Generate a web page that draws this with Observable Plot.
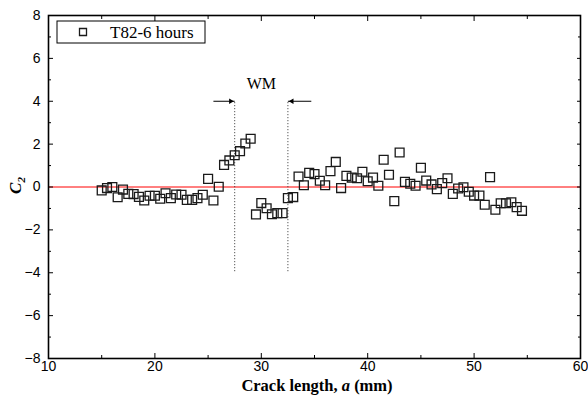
<!DOCTYPE html>
<html><head><meta charset="utf-8">
<script src="https://cdn.jsdelivr.net/npm/d3@7"></script>
<script src="https://cdn.jsdelivr.net/npm/@observablehq/plot@0.6"></script>
<style>
html,body{margin:0;padding:0;background:#fff}
#chart{width:588px;height:397px}
</style>
</head><body><div id="chart"></div>
<script>
// Data
const crackLength = [15,15.5,16,16.5,17,17.5,18,18.5,19,19.5,20,20.5,21,21.5,22,22.5,23,23.5,24,24.5,
  25,25.5,26,26.5,27,27.5,28,28.5,29,29.5,30,30.5,31,31.5,32,32.5,33,33.5,34,34.5,
  35,35.5,36,36.5,37,37.5,38,38.5,39,39.5,40,40.5,41,41.5,42,42.5,43,43.5,44,44.5,
  45,45.5,46,46.5,47,47.5,48,48.5,49,49.5,50,50.5,51,51.5,52,52.5,53,53.5,54,54.5];
const c2 = [-0.16,-0.05,0.0,-0.48,-0.12,-0.32,-0.33,-0.46,-0.63,-0.41,-0.41,-0.55,-0.29,-0.52,-0.35,-0.36,-0.60,-0.60,-0.52,-0.36,
  0.38,-0.63,0.01,1.03,1.24,1.48,1.67,2.03,2.25,-1.28,-0.75,-0.99,-1.27,-1.22,-1.22,-0.52,-0.47,0.49,0.08,0.66,
  0.60,0.29,0.08,0.74,1.17,-0.05,0.52,0.44,0.41,0.71,0.27,0.44,0.06,1.27,0.57,-0.66,1.61,0.24,0.15,0.06,
  0.90,0.30,0.12,-0.10,0.18,0.41,-0.32,-0.07,-0.01,-0.22,-0.40,-0.40,-0.83,0.46,-1.06,-0.76,-0.76,-0.71,-0.94,-1.11];
const seriesName = "T82-6 hours";
const xTicks = [10,20,30,40,50,60];
const xMinorTicks = [15,25,35,45,55];
const yTicks = [-8,-6,-4,-2,0,2,4,6,8];
const yMinorTicks = [-7,-5,-3,-1,1,3,5,7];
const xDomain = [10,60];
const yDomain = [-8,8];
const referenceLevel = [0];
const wmBounds = [27.5, 32.5];
const wmSpan = [-3.95, 4.0];
const wmArrowTails = [25.5, 34.7];
const wmLabel = "WM";
const wmLabelY = 4.8;

(function () {
const data = crackLength.map((a, i) => ({a, c: c2[i]}));
const leftArrow = [{x1: wmArrowTails[0], x2: wmBounds[0], y: wmSpan[1]}];
const rightArrow = [{x1: wmArrowTails[1], x2: wmBounds[1], y: wmSpan[1]}];

const blank = () => "";
const plot = Plot.plot({
  width: 588, height: 397,
  marginLeft: 48, marginRight: 8, marginTop: 15, marginBottom: 39,
  x: {domain: xDomain},
  y: {domain: yDomain},
  style: {fontFamily: "'Liberation Sans', Arial, sans-serif", fontSize: "14px", color: "#000", background: "#fff", overflow: "visible"},
  marks: [
    Plot.ruleY(referenceLevel, {stroke: "#ff0000", strokeWidth: 1}),
    Plot.ruleX(wmBounds, {y1: wmSpan[0], y2: wmSpan[1], stroke: "#333", strokeDasharray: "1,2"}),
    Plot.link(leftArrow.concat(rightArrow), {x1: "x1", x2: "x2", y1: "y", y2: "y", stroke: "#000", strokeWidth: 1}),
    Plot.dot(leftArrow, {x: "x2", y: "y", symbol: "triangle2", r: 2.6, rotate: 90, fill: "#000", stroke: null, dx: -4}),
    Plot.dot(rightArrow, {x: "x2", y: "y", symbol: "triangle2", r: 2.6, rotate: -90, fill: "#000", stroke: null, dx: 4}),
    Plot.text([wmLabel], {x: d3.mean(wmBounds), y: wmLabelY, text: d => d, fontFamily: "'Liberation Serif', 'Times New Roman', serif", fontSize: 16}),
    Plot.dot(data, {x: "a", y: "c", symbol: "square", r: 5, stroke: "#1a1a1a", strokeWidth: 1.3, fill: "none"}),
    Plot.axisX(xTicks, {anchor: "bottom", tickSize: 0, tickPadding: 3, label: null}),
    Plot.axisY(yTicks, {anchor: "left", tickSize: 0, tickPadding: 8, label: null}),
    Plot.axisX(xTicks, {anchor: "bottom", tickSize: -5, tickFormat: blank, label: null}),
    Plot.axisX(xMinorTicks, {anchor: "bottom", tickSize: -3, tickFormat: blank, label: null}),
    Plot.axisX(xTicks, {anchor: "top", tickSize: -5, tickFormat: blank, label: null}),
    Plot.axisX(xMinorTicks, {anchor: "top", tickSize: -3, tickFormat: blank, label: null}),
    Plot.axisY(yTicks, {anchor: "left", tickSize: -5, tickFormat: blank, label: null}),
    Plot.axisY(yMinorTicks, {anchor: "left", tickSize: -3, tickFormat: blank, label: null}),
    Plot.axisY(yTicks, {anchor: "right", tickSize: -4, tickFormat: blank, label: null}),
    Plot.axisY(yMinorTicks, {anchor: "right", tickSize: -3, tickFormat: blank, label: null}),
    Plot.frame({stroke: "#000", strokeWidth: 1.6})
  ]
});
document.getElementById("chart").appendChild(plot);

const sx = plot.scale("x"), sy = plot.scale("y");
const svg = d3.select(plot);
const serif = "'Liberation Serif', 'Times New Roman', serif";
const xMid = (sx.apply(xDomain[0]) + sx.apply(xDomain[1])) / 2;
const yMid = (sy.apply(yDomain[0]) + sy.apply(yDomain[1])) / 2;

const xl = svg.append("text")
  .attr("x", xMid + 3).attr("y", 391)
  .style("text-anchor", "middle")
  .style("font-family", serif).style("font-size", "16.5px").style("font-weight", "bold").attr("fill", "#000");
xl.append("tspan").text("Crack length, ");
xl.append("tspan").style("font-style", "italic").text("a");
xl.append("tspan").text(" (mm)");

const yl = svg.append("text")
  .attr("transform", `translate(21,${yMid - 1}) rotate(-90)`)
  .style("text-anchor", "middle")
  .style("font-family", serif).style("font-size", "17px").style("font-weight", "bold").style("font-style", "italic").attr("fill", "#000");
yl.append("tspan").text("C");
yl.append("tspan").style("font-size", "11px").attr("dy", 4).text("2");

const lg = svg.append("g");
const fx = sx.apply(xDomain[0]), fy = sy.apply(yDomain[1]);
lg.append("rect").attr("x", fx + 9).attr("y", fy + 6).attr("width", 148).attr("height", 22)
  .attr("fill", "#fff").attr("stroke", "#000").attr("stroke-width", 1);
lg.append("path").attr("d", d3.symbol(d3.symbolSquare, 49)()).attr("transform", `translate(${fx + 35},${fy + 17})`)
  .attr("fill", "none").attr("stroke", "#1a1a1a").attr("stroke-width", 1.3);
lg.append("text").attr("x", fx + 62).attr("y", fy + 23)
  .style("text-anchor", "start")
  .style("font-family", serif).style("font-size", "17px").attr("fill", "#000").text(seriesName);
})();
</script>
</body></html>
